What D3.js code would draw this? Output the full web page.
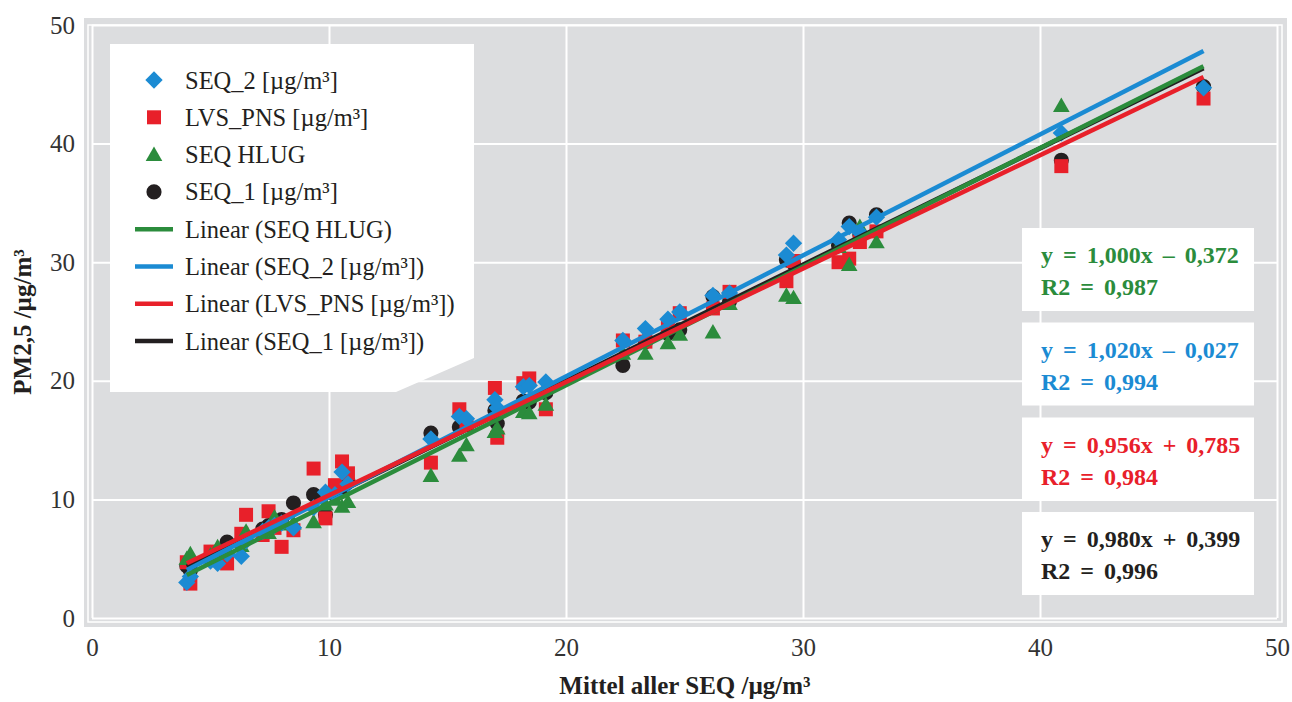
<!DOCTYPE html>
<html>
<head>
<meta charset="utf-8">
<script src="https://cdn.jsdelivr.net/npm/d3@7/dist/d3.min.js"></script>
<style>
  body { margin: 0; background: #fff; }
  text { font-family: "Liberation Serif", "Times New Roman", serif; }
</style>
</head>
<body>
<div id="chart"></div>
<script>
// mean of all SEQ (x) and the four measured series (y), in µg/m³
var xMean = [4.0, 4.15, 5.0, 5.3, 5.7, 6.3, 6.5, 7.2, 7.45, 7.7, 8.0, 8.5, 9.35, 9.85, 10.25, 10.55, 10.8,
  14.3, 15.5, 15.8, 17.0, 17.1, 18.2, 18.45, 19.15, 22.4, 23.35, 24.3, 24.8, 26.2, 26.9,
  29.3, 29.6, 31.5, 31.95, 32.4, 33.1, 40.9, 46.9];
var seq2 = [3.0, 3.5, 4.8, 4.6, 5.4, 5.2, 6.5, 7.3, 7.6, 7.8, 8.0, 7.6, 9.3, 10.6, 10.4, 12.3, 11.3,
  15.1, 17.0, 16.8, 18.4, 17.7, 19.5, 19.6, 19.9, 23.4, 24.4, 25.2, 25.8, 27.2, 27.4,
  30.6, 31.6, 31.9, 33.0, 32.5, 33.8, 40.9, 44.7];
var lvsPns = [4.7, 2.9, 5.6, 5.1, 4.6, 7.1, 8.7, 7.0, 9.0, 7.6, 6.0, 7.4, 12.6, 8.4, 11.2, 13.2, 12.2,
  13.1, 17.6, 16.3, 19.4, 15.2, 19.8, 20.2, 17.6, 23.4, 23.3, 24.7, 25.7, 26.1, 27.5,
  28.4, 30.1, 30.0, 30.3, 31.7, 32.6, 38.1, 43.8];
var seqHlug = [5.0, 5.4, 5.3, 6.0, 5.8, 6.1, 7.3, 7.4, 7.2, 8.5, 7.9, 8.0, 8.1, 9.6, 10.0, 9.4, 9.8,
  12.0, 13.7, 14.6, 15.7, 16.0, 17.4, 17.3, 18.0, 22.3, 22.3, 23.2, 23.9, 24.1, 26.5,
  27.2, 27.0, 31.3, 29.8, 33.0, 31.7, 43.2, null];
var seq1 = [4.4, 4.0, 5.0, 5.4, 6.4, 6.3, 6.8, 7.5, 7.8, 8.0, 8.3, 9.7, 10.4, 8.7, 10.4, 11.0, 11.5,
  15.6, 16.1, 16.3, 17.5, 16.4, 18.3, 18.2, 19.0, 21.3, 23.3, 24.0, 24.3, 27.1, 26.7,
  30.2, 29.9, 31.4, 33.3, 32.3, 34.0, 38.6, 44.8];

// linear trend lines as printed in the chart
var fitNames = ["SEQ HLUG", "SEQ_2 [µg/m³]", "LVS_PNS [µg/m³]", "SEQ_1 [µg/m³]"];
var fitSlope = [1.000, 1.020, 0.956, 0.980];
var fitIntercept = [-0.372, -0.027, 0.785, 0.399];
var fitR2 = [0.987, 0.994, 0.984, 0.996];

var xTicks = [0, 10, 20, 30, 40, 50];
var yTicks = [0, 10, 20, 30, 40, 50];

var colors = { seq2: "#1b8bd3", lvs: "#e8202a", hlug: "#2b8c3c", seq1: "#231f20" };

var W = 1292, H = 702;
var svg = d3.select("#chart").append("svg")
  .attr("width", W)
  .attr("height", H);

var xScale = d3.scaleLinear().domain([0, 50]).range([92, 1277]);
var yScale = d3.scaleLinear().domain([0, 50]).range([618, 25]);

// panel background + grid
svg.append("rect")
  .attr("x", 84).attr("y", 18)
  .attr("width", 1203).attr("height", 609)
  .attr("fill", "#dcdddf");
svg.append("rect")
  .attr("x", 88).attr("y", 25)
  .attr("width", 1194).attr("height", 597)
  .attr("fill", "none").attr("stroke", "#fff").attr("stroke-width", 1.5);

var xAxis = d3.axisBottom(xScale).tickValues(xTicks).tickSize(-593).tickPadding(20).tickFormat(d3.format("d"));
var yAxis = d3.axisLeft(yScale).tickValues(yTicks).tickSize(-1185).tickPadding(17).tickFormat(d3.format("d"));

svg.append("g")
  .attr("class", "axis axis--x")
  .attr("transform", "translate(0,618)")
  .call(xAxis);
svg.append("g")
  .attr("class", "axis axis--y")
  .attr("transform", "translate(92,0)")
  .call(yAxis);

svg.selectAll(".axis .domain").remove();
svg.selectAll(".axis line").attr("stroke", "#fff").attr("stroke-width", 2);
svg.selectAll(".axis text")
  .attr("fill", "#333")
  .style("font-size", "25px")
  .style("font-family", "Liberation Serif, serif");
svg.selectAll(".axis--x text").attr("dy", "0.71em");

// markers
var symbolSize = { seq2: 150, lvs: 196, hlug: 120, seq1: 180 };
function markerPath(kind) {
  if (kind == "seq2") return d3.symbol().type(d3.symbolSquare).size(symbolSize.seq2)();
  if (kind == "lvs") return d3.symbol().type(d3.symbolSquare).size(symbolSize.lvs)();
  if (kind == "hlug") return d3.symbol().type(d3.symbolTriangle).size(symbolSize.hlug)();
  return d3.symbol().type(d3.symbolCircle).size(symbolSize.seq1)();
}
function markerTransform(kind, cx, cy) {
  var t = "translate(" + cx + "," + cy + ")";
  if (kind == "seq2") t += " rotate(45)";
  if (kind == "hlug") t += " translate(0,1.5)";
  return t;
}

var series = [
  { key: "seq1", values: seq1 },
  { key: "lvs", values: lvsPns },
  { key: "hlug", values: seqHlug },
  { key: "seq2", values: seq2 }
];

series.forEach(function(s) {
  var pts = xMean.map(function(x, i) { return { x: x, y: s.values[i] }; })
    .filter(function(d) { return d.y != null; });
  svg.append("g")
    .attr("class", "series " + s.key)
    .selectAll("path")
    .data(pts)
    .enter().append("path")
    .attr("d", markerPath(s.key))
    .attr("transform", function(d) { return markerTransform(s.key, xScale(d.x), yScale(d.y)); })
    .attr("fill", colors[s.key]);
});

// trend lines (drawn on top of the markers)
var fitColor = [colors.hlug, colors.seq2, colors.lvs, colors.seq1];
var xExt = d3.extent(xMean);
var lineOrder = [3, 0, 1, 2];
lineOrder.forEach(function(i) {
  svg.append("line")
    .attr("x1", xScale(xExt[0]))
    .attr("y1", yScale(fitSlope[i] * xExt[0] + fitIntercept[i]))
    .attr("x2", xScale(xExt[1]))
    .attr("y2", yScale(fitSlope[i] * xExt[1] + fitIntercept[i]))
    .attr("stroke", fitColor[i])
    .attr("stroke-width", 4.5);
});

// legend box with the cut corner
var lg = d3.path();
lg.moveTo(110, 44);
lg.lineTo(474, 44);
lg.lineTo(474, 358);
lg.lineTo(396, 392);
lg.lineTo(110, 392);
lg.closePath();
svg.append("path").attr("d", lg.toString()).attr("fill", "#fff");

var legendItems = [
  { label: "SEQ_2 [µg/m³]", kind: "seq2" },
  { label: "LVS_PNS [µg/m³]", kind: "lvs" },
  { label: "SEQ HLUG", kind: "hlug" },
  { label: "SEQ_1 [µg/m³]", kind: "seq1" },
  { label: "Linear (SEQ HLUG)", line: 0 },
  { label: "Linear (SEQ_2 [µg/m³])", line: 1 },
  { label: "Linear (LVS_PNS [µg/m³])", line: 2 },
  { label: "Linear (SEQ_1 [µg/m³])", line: 3 }
];

var legend = svg.append("g").attr("class", "legend");
legendItems.forEach(function(d, i) {
  var cy = 80 + i * 37.3;
  if (d.kind) {
    legend.append("path")
      .attr("d", markerPath(d.kind))
      .attr("transform", markerTransform(d.kind, 154, cy))
      .attr("fill", colors[d.kind]);
  } else {
    legend.append("line")
      .attr("x1", 135).attr("x2", 173)
      .attr("y1", cy).attr("y2", cy)
      .attr("stroke", fitColor[d.line])
      .attr("stroke-width", 4.5);
  }
  legend.append("text")
    .attr("x", 185)
    .attr("y", cy + 8.5)
    .attr("fill", "#231f20")
    .style("font-size", "24.5px")
    .text(d.label);
});

// equation boxes
var boxTop = [228, 322.5, 417.5, 512];
var fmt = d3.format(".3f");
function comma(v) { return fmt(v).replace(".", ","); }
[0, 1, 2, 3].forEach(function(i) {
  var g = svg.append("g").attr("class", "eq");
  g.append("rect")
    .attr("x", 1022).attr("y", boxTop[i])
    .attr("width", 232).attr("height", 83)
    .attr("fill", "#fff");
  var sign = fitIntercept[i] < 0 ? "–" : "+";
  g.append("text")
    .attr("x", 1041).attr("y", boxTop[i] + 35)
    .attr("fill", fitColor[i])
    .style("font-size", "24px").style("font-weight", "bold")
    .style("word-spacing", "4px")
    .text("y = " + comma(fitSlope[i]) + "x " + sign + " " + comma(Math.abs(fitIntercept[i])));
  g.append("text")
    .attr("x", 1041).attr("y", boxTop[i] + 67)
    .attr("fill", fitColor[i])
    .style("font-size", "24px").style("font-weight", "bold")
    .style("word-spacing", "4px")
    .text("R2 = " + comma(fitR2[i]));
});

// axis titles
svg.append("text")
  .attr("x", 685).attr("y", 694)
  .attr("text-anchor", "middle")
  .attr("fill", "#231f20")
  .style("font-size", "25px").style("font-weight", "bold")
  .text("Mittel aller SEQ /µg/m³");

svg.append("text")
  .attr("transform", "translate(31,322) rotate(-90)")
  .attr("text-anchor", "middle")
  .attr("fill", "#231f20")
  .style("font-size", "25px").style("font-weight", "bold")
  .text("PM2,5 /µg/m³");
</script>
</body>
</html>
